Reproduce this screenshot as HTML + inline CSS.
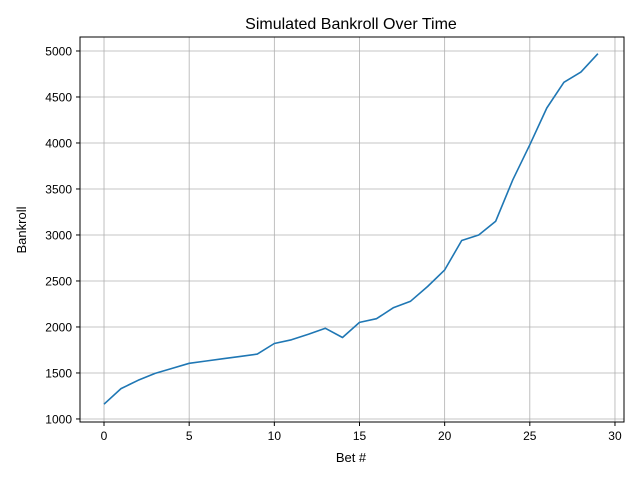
<!DOCTYPE html>
<html><head><meta charset="utf-8"><style>body{margin:0;background:#fff}svg{display:block;font-family:"Liberation Sans","DejaVu Sans",sans-serif}</style></head>
<body>
<svg id="chart" width="640" height="480">
<rect width="640" height="480" fill="#fff"/>
<text x="351" y="29" font-size="16" text-anchor="middle">Simulated Bankroll Over Time</text>
<text x="351" y="462" font-size="13" text-anchor="middle">Bet #</text>
<text transform="translate(26,230) rotate(-90)" font-size="13" text-anchor="middle">Bankroll</text>
<g id="grid"></g><g id="ticks"></g><g id="series"></g>
<rect x="80" y="37" width="544" height="385" fill="none" stroke="#000" stroke-width="1"/>
</svg>
<script>
const bets=[0,1,2,3,4,5,6,7,8,9,10,11,12,13,14,15,16,17,18,19,20,21,22,23,24,25,26,27,28,29];
const bankroll=[1160,1330,1420,1495,1550,1605,1630,1655,1680,1705,1820,1860,1920,1985,1885,2050,2090,2210,2280,2440,2620,2940,3000,3150,3600,3980,4380,4660,4770,4970];
const xTicks=[0,5,10,15,20,25,30];
const yTicks=[1000,1500,2000,2500,3000,3500,4000,4500,5000];
const L=80,R=624,T=37,B=422,xmin=-1.41,xmax=30.53,ymin=967,ymax=5152;
const sx=v=>L+(v-xmin)/(xmax-xmin)*(R-L);
const sy=v=>B-(v-ymin)/(ymax-ymin)*(B-T);
const NS='http://www.w3.org/2000/svg';
function mk(tag,attrs,parent){const e=document.createElementNS(NS,tag);for(const k in attrs)e.setAttribute(k,attrs[k]);document.getElementById(parent).appendChild(e);return e;}
xTicks.forEach(t=>{const x=sx(t);
const g=mk('line',{x1:x,x2:x,y1:T,y2:B,stroke:'#b0b0b0','stroke-width':0.8},'grid');


const tk=mk('line',{x1:x,x2:x,y1:B,y2:B+4,stroke:'#000'},'ticks');


const lb=mk('text',{x:x,y:B+18,'font-size':12,'text-anchor':'middle'},'ticks');lb.textContent=t;

});
yTicks.forEach(t=>{const y=sy(t);
const g=mk('line',{x1:L,x2:R,y1:y,y2:y,stroke:'#b0b0b0','stroke-width':0.8},'grid');


const tk=mk('line',{x1:L-4,x2:L,y1:y,y2:y,stroke:'#000'},'ticks');


const lb=mk('text',{x:L-8,y:y+4.5,'font-size':12,'text-anchor':'end'},'ticks');lb.textContent=t;

});
const pts=bets.map((b,i)=>sx(b).toFixed(1)+','+sy(bankroll[i]).toFixed(1)).join(' ');
const pl=mk('polyline',{points:pts,fill:'none',stroke:'#1f77b4','stroke-width':1.6,'stroke-linejoin':'round'},'series');


</script>
</body></html>
